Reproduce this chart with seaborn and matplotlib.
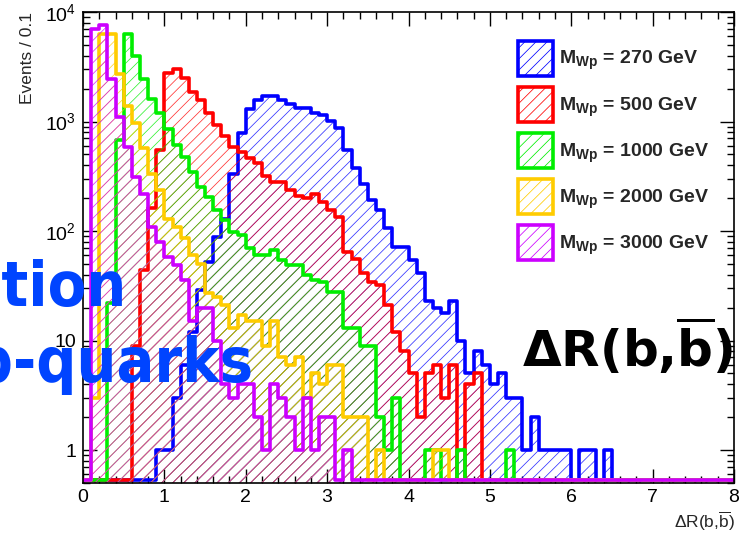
import numpy as np
import matplotlib

matplotlib.use("Agg")

import matplotlib.pyplot as plt
import seaborn as sns
from matplotlib import font_manager
from matplotlib.patches import Patch
from matplotlib.ticker import FixedLocator, FixedFormatter, MultipleLocator, LogLocator, NullFormatter

# Events per 0.1 bin of Delta R, bins 0.0-0.1 ... 7.9-8.0
bin_edges = [round(0.1 * k, 2) for k in range(81)]

m270 = [0, 0, 0, 0, 0, 0, 0, 0, 0, 1,
        1, 3, 6, 12, 29, 52, 88, 130, 335, 780,
        1310, 1560, 1720, 1720, 1560, 1450, 1340, 1340, 1200, 1140,
        1020, 880, 545, 380, 270, 190, 155, 106, 71, 71,
        54, 41, 23, 20, 18, 23, 10, 5, 8, 6,
        4, 5, 3, 3, 1, 2, 1, 1, 1, 1,
        0, 1, 1, 0, 1, 0, 0, 0, 0, 0,
        0, 0, 0, 0, 0, 0, 0, 0, 0, 0]
m500 = [0, 0, 0, 0, 0, 0, 9, 44, 162, 545,
        2800, 3000, 2500, 1850, 1560, 1190, 930, 730, 590, 525,
        460, 420, 320, 280, 280, 235, 211, 200, 220, 184,
        155, 134, 64, 55, 41, 34, 32, 21, 12, 8,
        5, 2, 5, 6, 3, 6, 0, 4, 5, 0,
        0, 0, 0, 0, 0, 0, 0, 0, 0, 0,
        0, 0, 0, 0, 0, 0, 0, 0, 0, 0,
        0, 0, 0, 0, 0, 0, 0, 0, 0, 0]
m1000 = [0, 0, 0, 22, 675, 6300, 3970, 2450, 1620, 1190,
         860, 610, 470, 345, 250, 205, 155, 125, 98, 92,
         70, 60, 60, 67, 54, 49, 49, 40, 36, 34,
         28, 28, 13, 13, 9, 9, 2, 1, 3, 0,
         0, 0, 1, 1, 0, 0, 1, 0, 0, 0,
         0, 0, 1, 0, 0, 0, 0, 0, 0, 0,
         0, 0, 0, 0, 0, 0, 0, 0, 0, 0,
         0, 0, 0, 0, 0, 0, 0, 0, 0, 0]
m2000 = [0, 3, 6300, 6300, 2700, 1400, 960, 570, 335, 235,
         130, 108, 86, 60, 50, 27, 25, 21, 13, 17,
         15, 15, 9, 15, 7, 6, 7, 3, 5, 4,
         6, 6, 2, 2, 2, 0, 1, 0, 0, 0,
         0, 0, 0, 1, 1, 0, 0, 0, 0, 0,
         0, 0, 0, 0, 0, 0, 0, 0, 0, 0,
         0, 0, 0, 0, 0, 0, 0, 0, 0, 0,
         0, 0, 0, 0, 0, 0, 0, 0, 0, 0]
m3000 = [0, 7000, 7600, 2450, 1090, 580, 310, 220, 108, 79,
         58, 49, 36, 15, 20, 20, 10, 4, 3, 4,
         4, 2, 1, 4, 3, 2, 1, 3, 1, 2,
         2, 0, 1, 0, 0, 0, 0, 0, 0, 0,
         0, 0, 0, 0, 0, 0, 0, 0, 0, 0,
         0, 0, 0, 0, 0, 0, 0, 0, 0, 0,
         0, 0, 0, 0, 0, 0, 0, 0, 0, 0,
         0, 0, 0, 0, 0, 0, 0, 0, 0, 0]

masses = ["270", "500", "1000", "2000", "3000"]
colors = ["#0000ff", "#ff0000", "#00ee00", "#ffcc00", "#cc00ff"]
x_ticklabels = ["0", "1", "2", "3", "4", "5", "6", "7", "8"]
y_ticks = [1, 10, 100, 1000, 10000]
y_ticklabels = ["1", "10", r"$10^{2}$", r"$10^{3}$", r"$10^{4}$"]

sns.set_style("ticks")
plt.rcParams["font.family"] = ["Liberation Sans", "DejaVu Sans"]
plt.rcParams["mathtext.fontset"] = "custom"
plt.rcParams["mathtext.rm"] = "Liberation Sans"
plt.rcParams["mathtext.bf"] = "Liberation Sans:bold"
plt.rcParams["mathtext.it"] = "Liberation Sans:italic"
plt.rcParams["hatch.linewidth"] = 0.55

W, H = 752, 534
fig = plt.figure(figsize=(W / 100, H / 100), dpi=100)
ax = fig.add_axes([83 / W, 1 - 483 / H, (734 - 83) / W, (483 - 12) / H])

edges_arr = np.array(bin_edges)
centers = (edges_arr[:-1] + edges_arr[1:]) / 2
floor = 0.53  # empty bins are drawn on the bottom edge, as ROOT does

series = [m270, m500, m1000, m2000, m3000]
for i, (vals, color) in enumerate(zip(series, colors)):
    vals = np.array(vals, dtype=float)
    heights = np.where(vals > 0, vals, floor)
    hatch_col = matplotlib.colors.to_rgba(color, 0.8)
    sns.histplot(
        x=centers, weights=heights, bins=bin_edges,
        element="step", fill=True, color=color,
        facecolor="none", edgecolor=hatch_col, hatch="///", linewidth=0,
        zorder=2 + 2 * i, ax=ax
    )
    sns.histplot(
        x=centers, weights=heights, bins=bin_edges,
        element="step", fill=False,
        color=color, linewidth=2.6,
        zorder=3 + 2 * i, ax=ax
    )

ax.set_yscale("log")
ax.set_xlim(0, 8)
ax.set_ylim(0.5, 1e4)
ax.set_xlabel("")
ax.set_ylabel("")

ax.xaxis.set_major_locator(FixedLocator(range(9)))
ax.xaxis.set_major_formatter(FixedFormatter(x_ticklabels))
ax.xaxis.set_minor_locator(MultipleLocator(0.2))
ax.yaxis.set_major_locator(FixedLocator(y_ticks))
ax.yaxis.set_major_formatter(FixedFormatter(y_ticklabels))
ax.yaxis.set_minor_locator(LogLocator(base=10, subs=np.arange(2, 10)))
ax.yaxis.set_minor_formatter(NullFormatter())

ax.tick_params(which="both", direction="in", top=True, right=True,
               width=1, color="black", labelsize=14, labelcolor="black")
ax.tick_params(which="major", length=10)
ax.tick_params(which="minor", length=5)
ax.tick_params(axis="x", pad=4)
ax.tick_params(axis="y", pad=5)
for spine in ax.spines.values():
    spine.set_linewidth(1.2)
    spine.set_color("black")
    spine.set_zorder(20)

# axis titles, placed like ROOT does
fig.text(27 / W, 1 - 12 / H, "Events / 0.1", rotation=90,
         ha="center", va="top", fontsize=12.5)
fig.text(735 / W, 1 - 521 / H, r"$\Delta$R(b,$\overline{\rm b}$)",
         ha="right", va="center", fontsize=12.5)

# legend
handles = [Patch(facecolor="none", edgecolor=c, hatch="///", linewidth=2.6)
           for c in colors]
labels = [r"$\mathbf{M_{Wp}}$ = " + m + " GeV" for m in masses]
ax.legend(handles, labels, loc="upper left",
          bbox_to_anchor=(518 / W, 1 - 41 / H), bbox_transform=fig.transFigure,
          frameon=False, prop={"weight": "bold", "size": 14},
          handlelength=1.8, handleheight=2.39, labelspacing=0.57,
          handletextpad=0.3, borderpad=0, borderaxespad=0)

# overlaid slide text (condensed bold face if it is installed)
cond_path = font_manager.findfont(
    font_manager.FontProperties(family="DejaVu Sans", weight="bold", stretch="condensed"))
has_cond = "condensed" in cond_path.lower()
blue_size = 45 if has_cond else 41
blue_txt = "#0044ff"
fig.text(126 / W, 1 - 306 / H, "separation", ha="right", va="baseline",
         fontsize=blue_size, fontweight="bold", fontstretch="condensed",
         color=blue_txt, family="DejaVu Sans", zorder=30)
fig.text(253 / W, 1 - 382 / H, "of b-quarks", ha="right", va="baseline",
         fontsize=blue_size, fontweight="bold", fontstretch="condensed",
         color=blue_txt, family="DejaVu Sans", zorder=30)
fig.text(522 / W, 1 - 367 / H, r"$\mathbf{\Delta R(b{,}\overline{b})}$",
         ha="left", va="baseline", fontsize=36, color="black",
         math_fontfamily="dejavusans", zorder=30)

fig.savefig("out.png", dpi=100)
plt.close("all")
